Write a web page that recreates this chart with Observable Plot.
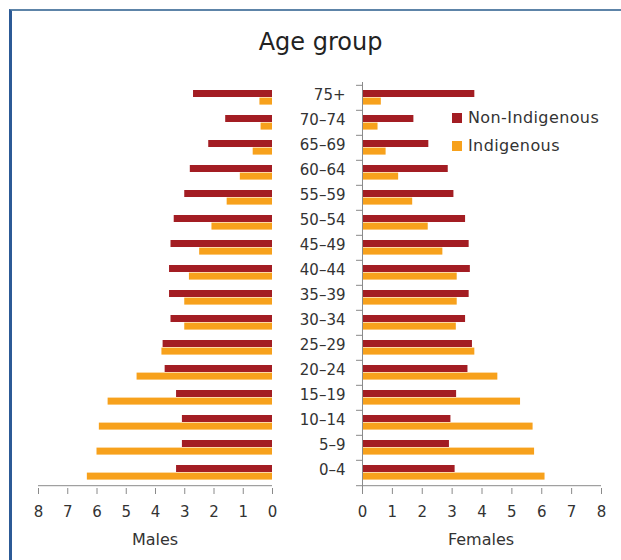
<!DOCTYPE html>
<html><head><meta charset="utf-8">
<script src="https://cdn.jsdelivr.net/npm/d3@7"></script>
<script src="https://cdn.jsdelivr.net/npm/@observablehq/plot@0.6"></script>
<style>
body{margin:0;background:#fff;font-family:"DejaVu Sans",sans-serif;color:#333;}
#wrap{position:relative;width:621px;height:560px;overflow:hidden;background:#fff;}
#frame{position:absolute;left:9px;top:9px;width:640px;height:580px;border-left:3px solid #2c5a96;border-top:2px solid #5d84a8;}
.layer{position:absolute;left:0;top:0;}
#title{position:absolute;left:0;width:641px;top:28px;text-align:center;font-size:24px;color:#222;}
.leg{position:absolute;left:452px;font-size:16px;letter-spacing:0.4px;color:#333;display:flex;align-items:center;}
.leg span.sw{display:inline-block;width:10px;height:10px;margin-right:6px;}
.axlab{position:absolute;top:530px;width:200px;text-align:center;font-size:16px;color:#333;}
</style></head>
<body>
<div id="wrap">
  <div id="frame"></div>
  <div id="left" class="layer"></div>
  <div id="right" class="layer"></div>
  <div id="title">Age group</div>
  <div class="leg" style="top:108px"><span class="sw" style="background:#a31d23"></span>Non-Indigenous</div>
  <div class="leg" style="top:136px"><span class="sw" style="background:#f7a11c"></span>Indigenous</div>
  <div class="axlab" style="left:55px">Males</div>
  <div class="axlab" style="left:381px">Females</div>
</div>
<script>
const ageGroups = ["75+","70–74","65–69","60–64","55–59","50–54","45–49","40–44","35–39","30–34","25–29","20–24","15–19","10–14","5–9","0–4"];
const maleNonIndigenous = [2.70,1.60,2.18,2.81,3.00,3.36,3.47,3.52,3.52,3.47,3.74,3.67,3.28,3.08,3.08,3.28];
const maleIndigenous    = [0.43,0.39,0.66,1.10,1.55,2.07,2.49,2.84,3.00,3.00,3.78,4.63,5.62,5.92,6.00,6.33];
const femaleNonIndigenous = [3.76,1.72,2.22,2.87,3.06,3.45,3.57,3.61,3.57,3.45,3.68,3.53,3.15,2.96,2.91,3.10];
const femaleIndigenous    = [0.63,0.52,0.79,1.21,1.68,2.20,2.69,3.17,3.17,3.14,3.76,4.53,5.29,5.71,5.76,6.11];
const xTicks = [0,1,2,3,4,5,6,7,8];
const seriesNames = ["Non-Indigenous","Indigenous"];

const RED = "#a31d23", ORANGE = "#f7a11c", AXIS = "#8a8a8a", TEXT = "#333";
const W = 621, H = 560, MT = 82, MB = 72;
const bw = (H - MT - MB) / ageGroups.length;
const last = ageGroups[ageGroups.length - 1];

const maleRows = ageGroups.map((age, i) => ({age, non: maleNonIndigenous[i], ind: maleIndigenous[i]}));
const femaleRows = ageGroups.map((age, i) => ({age, non: femaleNonIndigenous[i], ind: femaleIndigenous[i]}));

const common = {
  width: W, height: H, marginTop: MT, marginBottom: MB,
  style: {background: "transparent", fontFamily: "DejaVu Sans, sans-serif", color: TEXT, overflow: "visible"},
  y: {domain: ageGroups, padding: 0, axis: null}
};

function bars(rows) {
  return [
    Plot.barX(rows, {y: "age", x: "non", fill: RED, insetTop: 5, insetBottom: 13}),
    Plot.barX(rows, {y: "age", x: "ind", fill: ORANGE, insetTop: 12.6, insetBottom: 5.4})
  ];
}

const left = Plot.plot({
  ...common,
  marginLeft: 38, marginRight: W - 272,
  x: {domain: [0, 8], reverse: true},
  marks: [
    ...bars(maleRows),
    Plot.ruleY([last], {dy: bw / 2, stroke: AXIS}),
    Plot.axisX({ticks: xTicks, tickSize: 6, tickPadding: 12, fontSize: 15, stroke: AXIS, color: TEXT, label: null})
  ]
});

const right = Plot.plot({
  ...common,
  marginLeft: 362, marginRight: W - 601,
  x: {domain: [0, 8]},
  marks: [
    ...bars(femaleRows),
    Plot.ruleX([0], {stroke: AXIS}),
    Plot.ruleY(ageGroups, {y: d => d, x1: -0.2, x2: 0, dy: -bw / 2, stroke: AXIS}),
    Plot.ruleY([last], {y: d => d, x1: -0.2, x2: 0, dy: bw / 2, stroke: AXIS}),
    Plot.ruleY([last], {dy: bw / 2, stroke: AXIS}),
    Plot.axisY({anchor: "left", tickSize: 0, tickPadding: 17, fontSize: 15, color: TEXT, label: null, dy: -3}),
    Plot.axisX({ticks: xTicks, tickSize: 6, tickPadding: 12, fontSize: 15, stroke: AXIS, color: TEXT, label: null})
  ]
});

document.getElementById("left").appendChild(left);
document.getElementById("right").appendChild(right);
</script>
</body></html>
